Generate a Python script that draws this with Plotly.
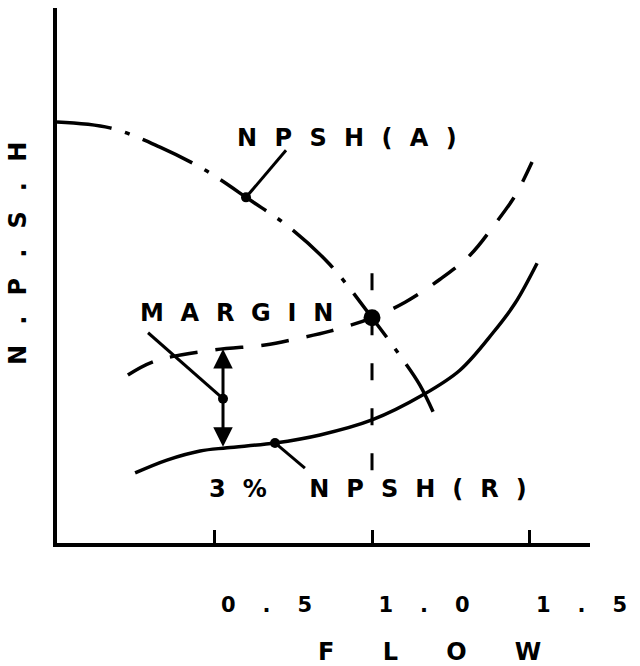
import math
import plotly.graph_objects as go

# ---------------- data ----------------
# NPSH available (dash-dot curve)
flow_a = [0.0, 0.168, 0.327, 0.470, 0.613, 0.740, 0.867, 1.0, 1.089, 1.152, 1.210]
npsh_a = [7.87, 7.76, 7.40, 6.97, 6.41, 5.89, 5.20, 4.21, 3.50, 2.95, 2.24]

# NPSH required + margin (dashed curve)
flow_m = [0.225, 0.311, 0.502, 0.660, 0.771, 0.867, 1.0, 1.105, 1.216, 1.311, 1.390, 1.454, 1.508]
npsh_m = [3.14, 3.40, 3.61, 3.70, 3.83, 3.96, 4.21, 4.50, 4.93, 5.38, 5.96, 6.49, 7.12]

# 3% NPSH required (solid curve)
flow_r = [0.248, 0.349, 0.454, 0.540, 0.692, 0.835, 1.0, 1.162, 1.279, 1.384, 1.454, 1.524]
npsh_r = [1.31, 1.55, 1.72, 1.78, 1.87, 2.02, 2.30, 2.77, 3.23, 3.93, 4.48, 5.23]

# design-flow marker line
design_flow = 1.0
design_line_npsh = [1.36, 5.14]

# x tick labels
tick_vals = [0.5, 1.0, 1.5]
tick_labels = ["0.5", "1.0", "1.5"]

# ---------------- helpers ----------------
FONT = "DejaVu Sans"
SPACE_EM = 0.348  # width of a (no-break) space in DejaVu Sans Bold, in em


def spaced(text, sep_px, base):
    """Return text with wide, plotter-like letter spacing."""
    nb = "\u00a0"
    n = max(1, math.ceil(sep_px / (SPACE_EM * base)))
    fs = sep_px / (n * SPACE_EM)
    sep = f'<span style="font-size:{fs:.1f}px">{nb * n}</span>'
    return sep.join(nb if c == " " else c for c in text)


def interp(x, xs, ys):
    for i in range(len(xs) - 1):
        if xs[i] <= x <= xs[i + 1]:
            t = (x - xs[i]) / (xs[i + 1] - xs[i])
            return ys[i] + t * (ys[i + 1] - ys[i])
    return ys[-1]


BLACK = "black"
LW = 3.5

fig = go.Figure()

# curves
fig.add_trace(go.Scatter(x=flow_a, y=npsh_a, mode="lines",
                         line=dict(color=BLACK, width=LW, shape="spline",
                                   dash="55px,14px,5px,14px")))
fig.add_trace(go.Scatter(x=flow_m, y=npsh_m, mode="lines",
                         line=dict(color=BLACK, width=LW, shape="spline",
                                   dash="28px,18px")))
fig.add_trace(go.Scatter(x=flow_r, y=npsh_r, mode="lines",
                         line=dict(color=BLACK, width=LW, shape="spline")))
fig.add_trace(go.Scatter(x=[design_flow, design_flow], y=design_line_npsh, mode="lines",
                         line=dict(color=BLACK, width=3, dash="17px,28px")))

# leader lines (label -> dot on curve)
lead_a_x = 0.60
lead_a_y = interp(lead_a_x, flow_a, npsh_a)
lead_r_x = 0.692
lead_r_y = interp(lead_r_x, flow_r, npsh_r)
margin_x = 0.527
margin_top = interp(margin_x, flow_m, npsh_m)
margin_bot = interp(margin_x, flow_r, npsh_r)
margin_mid = (margin_top + margin_bot) / 2

leaders = [
    ((0.727, 7.34), (lead_a_x, lead_a_y)),
    ((0.289, 3.93), (margin_x, margin_mid)),
    ((0.787, 1.40), (lead_r_x, lead_r_y)),
]
for (x0, y0), (x1, y1) in leaders:
    fig.add_trace(go.Scatter(x=[x0, x1], y=[y0, y1], mode="lines",
                             line=dict(color=BLACK, width=3)))
    fig.add_trace(go.Scatter(x=[x1], y=[y1], mode="markers",
                             marker=dict(color=BLACK, size=10)))

# operating point (intersection)
fig.add_trace(go.Scatter(x=[design_flow], y=[interp(design_flow, flow_a, npsh_a)],
                         mode="markers", marker=dict(color=BLACK, size=17)))

# margin double arrow
fig.add_annotation(x=margin_x, y=margin_top, ax=margin_x, ay=margin_bot,
                   xref="x", yref="y", axref="x", ayref="y", text="",
                   showarrow=True, arrowside="end+start",
                   arrowhead=2, startarrowhead=2, arrowsize=1.3, startarrowsize=1.3,
                   arrowwidth=3, arrowcolor=BLACK, standoff=0, startstandoff=0)

# text labels
def label(text, x, y, sep, size=24, xref="x", yref="y", angle=0):
    fig.add_annotation(text=spaced(text, sep, size), x=x, y=y, xref=xref, yref=yref,
                       showarrow=False, textangle=angle,
                       xanchor="center", yanchor="middle",
                       font=dict(family=FONT, size=size, color=BLACK, weight="bold"))


label("NPSH(A)", 0.921, 7.57, 17.3)
label("MARGIN", 0.571, 4.30, 16.7)
label("3% NPSH(R)", 0.987, 1.01, 17.0)
label("FLOW", 0.698, -0.204, 48.2, xref="paper", yref="paper")
label("N.P.S.H", -0.0741, 0.541, 20.1, xref="paper", yref="paper", angle=-90)

fig.update_layout(
    width=640, height=666,
    margin=dict(l=57, r=50, t=8, b=123),
    paper_bgcolor="white", plot_bgcolor="white",
    showlegend=False,
    xaxis=dict(range=[0, 1.692], showline=True, linewidth=LW, linecolor=BLACK,
               showgrid=False, zeroline=False,
               ticks="inside", ticklen=13, tickwidth=2.5, tickcolor=BLACK,
               tickvals=tick_vals,
               ticktext=[spaced(t, 27, 21) for t in tick_labels],
               tickfont=dict(family=FONT, size=21, color=BLACK, weight="bold"),
               ticklabelshift=52, ticklabelstandoff=40),
    yaxis=dict(range=[0, 10], showline=True, linewidth=LW, linecolor=BLACK,
               showgrid=False, zeroline=False, ticks="", showticklabels=False),
)

fig.write_html("out.html", config={"displayModeBar": False},
               post_script="document.body.style.margin='0';document.body.style.overflow='hidden';")
